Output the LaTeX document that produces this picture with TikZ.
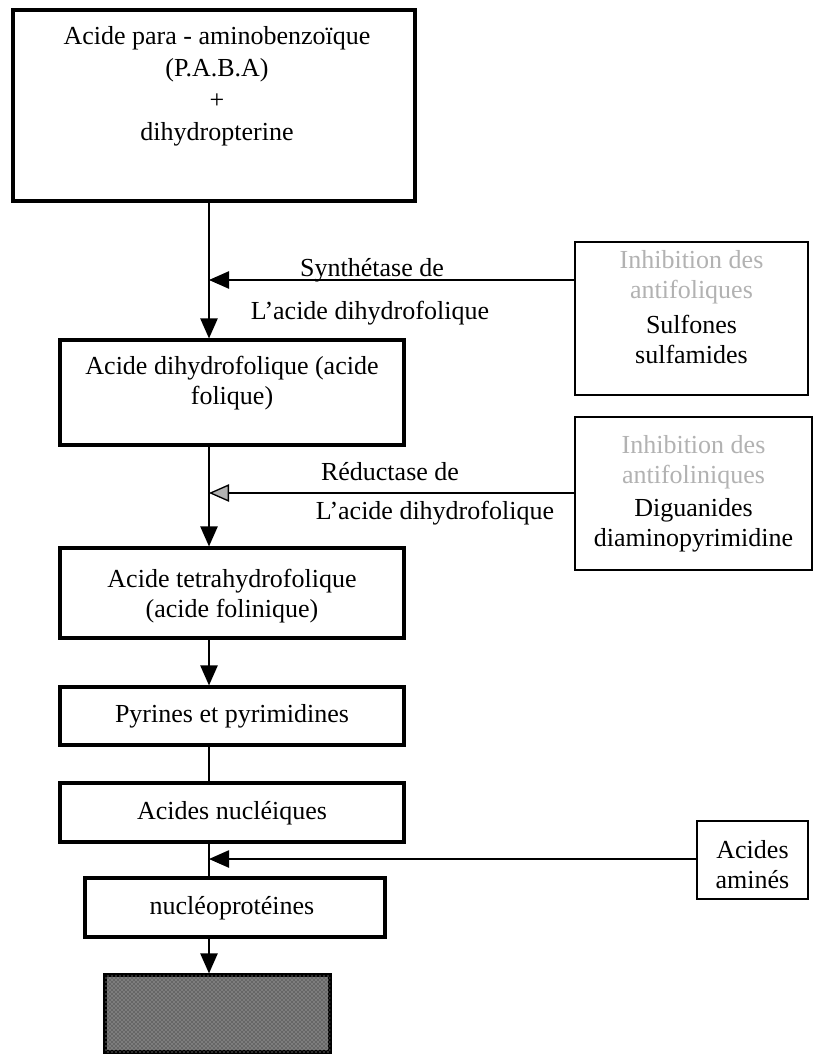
\documentclass[tikz,border=0pt]{standalone}
\usepackage{fontspec}
\setmainfont{Liberation Serif}
\usetikzlibrary{arrows.meta,patterns}
\begin{document}
\begin{tikzpicture}[x=0.75pt,y=-0.75pt,
  box/.style={draw, line width=2.4pt, inner sep=0pt},
  sbox/.style={draw, line width=1.1pt, inner sep=0pt},
  txt/.style={align=center, font=\fontsize{19.5}{22.5}\selectfont, inner sep=0pt},
  faint/.style={align=center, font=\fontsize{19.5}{22.5}\selectfont, text=black!30, inner sep=0pt},
  conn/.style={line width=1pt},
  arr/.style={line width=1pt, -{Triangle[length=15pt,width=13pt]}},
  oarr/.style={line width=1pt, -{Triangle[length=15pt,width=13pt,fill=black!30]}},
  darkbox/.style={box, fill=black!60, postaction={pattern=crosshatch dots, pattern color=white!80!black}},
]
\useasboundingbox (0,0) rectangle (824,1056);
\fill[white] (0,0) rectangle (824,1056);

% main boxes
\node[box, minimum width=301.5pt, minimum height=143.25pt] (b1) at (214,105.5) {};
\node[box, minimum width=258pt, minimum height=78.75pt] (b2) at (232,392.5) {};
\node[box, minimum width=258pt, minimum height=67.5pt] (b3) at (232,593) {};
\node[box, minimum width=258pt, minimum height=43.5pt] (b4) at (232,716) {};
\node[box, minimum width=258pt, minimum height=44.25pt] (b5) at (232,812.5) {};
\node[box, minimum width=225pt, minimum height=44.25pt] (b6) at (235,907.5) {};
\node[darkbox, minimum width=168.75pt, minimum height=57.75pt] (b7) at (217.5,1013.5) {};

% side boxes
\node[sbox, minimum width=174.75pt, minimum height=114.75pt] (rA) at (691.5,318.5) {};
\node[sbox, minimum width=177.75pt, minimum height=114.75pt] (rB) at (693.5,493.5) {};
\node[sbox, minimum width=83.25pt, minimum height=58.5pt] (rC) at (752.5,860) {};

% texts
\node[txt, font=\fontsize{19.5}{24}\selectfont] (b1t) at (217,86) {Acide para - aminobenzoïque\\(P.A.B.A)\\+\\dihydropterine};
\node[txt] (b2t) at (232,383) {Acide dihydrofolique (acide\\folique)};
\node[txt] (b3t) at (232,596) {Acide tetrahydrofolique\\(acide folinique)};
\node[txt] (b4t) at (232,716) {Pyrines et pyrimidines};
\node[txt] (b5t) at (232,813) {Acides nucléiques};
\node[txt] (b6t) at (232,908) {nucléoprotéines};
\node[faint] (rAf) at (691.5,277) {Inhibition des\\antifoliques};
\node[txt] (rAt) at (691.5,339) {Sulfones\\sulfamides};
\node[faint] (rBf) at (693.5,462) {Inhibition des\\antifoliniques};
\node[txt] (rBt) at (693.5,525) {Diguanides\\diaminopyrimidine};
\node[txt] (rCt) at (752.5,865) {Acides\\aminés};
\node[txt] (l1) at (372,270) {Synthétase de};
\node[txt] (l2) at (370,313) {L'acide dihydrofolique};
\node[txt] (l3) at (390,472) {Réductase de};
\node[txt] (l4) at (435,513) {L'acide dihydrofolique};

% connectors
\coordinate (spine) at (209,0);
\coordinate (s1) at (209,280);
\coordinate (s2) at (209,493);
\coordinate (s3) at (209,859);
\draw[arr] (spine |- b1.south) -- (spine |- b2.north);
\draw[arr] (rA.west |- s1) -- (s1);
\draw[arr] (spine |- b2.south) -- (spine |- b3.north);
\draw[oarr] (rB.west |- s2) -- (s2);
\draw[arr] (spine |- b3.south) -- (spine |- b4.north);
\draw[conn] (spine |- b4.south) -- (spine |- b5.north);
\draw[conn] (spine |- b5.south) -- (spine |- b6.north);
\draw[arr] (rC.west |- s3) -- (s3);
\draw[arr] (spine |- b6.south) -- (spine |- b7.north);
\end{tikzpicture}
\end{document}
